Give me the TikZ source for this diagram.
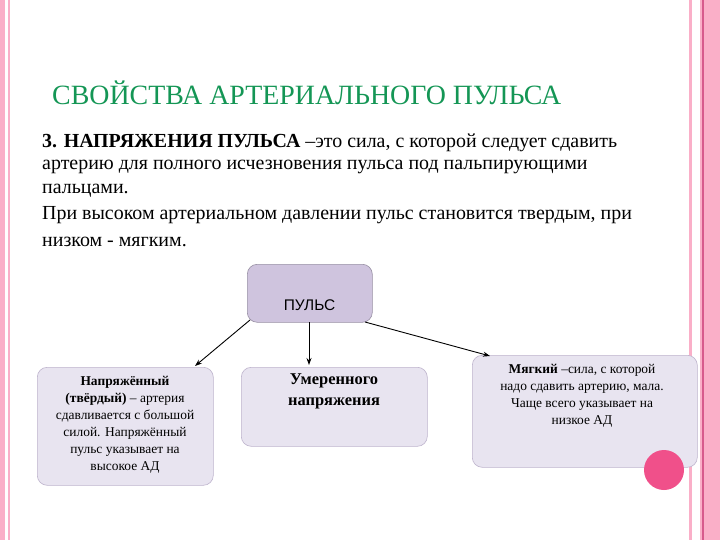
\documentclass[tikz,border=0pt]{standalone}
\usepackage{fontspec}
\setmainfont{Liberation Serif}
\newfontfamily\sanscyr{Liberation Sans}
\usetikzlibrary{arrows.meta}
\definecolor{pinkbar}{RGB}{250,175,200}
\definecolor{pinkdark}{RGB}{215,90,140}
\definecolor{titlegreen}{RGB}{20,150,85}
\definecolor{boxfill}{RGB}{232,228,240}
\definecolor{topfill}{RGB}{207,196,222}
\definecolor{boxline}{RGB}{190,180,205}
\definecolor{dotpink}{RGB}{240,80,138}
\tikzset{
 box/.style={draw=boxline, line width=0.6pt, fill=boxfill, rounded corners=10pt, anchor=north west, inner sep=0pt},
 arr/.style={-{Stealth[length=7pt,width=5pt]}, line width=0.9pt, black},
 bodytxt/.style={anchor=west, font=\fontsize{20}{22}\selectfont, inner sep=0pt},
 boxtxt/.style={align=center, font=\fontsize{13.5}{17}\selectfont, inner sep=0pt}
}
\begin{document}
\begin{tikzpicture}[x=1bp,y=-1bp]
\useasboundingbox (0,0) rectangle (720,540);
\fill[white] (0,0) rectangle (720,540);
% borders
\fill[pinkbar] (0,0) rectangle (5,540);
\fill[pinkbar] (8,0) rectangle (10,540);
\fill[pinkbar] (689,0) rectangle (692,540);
\fill[pinkbar] (700,0) rectangle (720,540);
\fill[pinkdark] (702,0) rectangle (703.5,540);
% title
\node[anchor=west, text=titlegreen, font=\fontsize{28}{30}\selectfont, inner sep=0pt] (title) at (52,93) {СВОЙСТВА АРТЕРИАЛЬНОГО ПУЛЬСА};
% body
\node[bodytxt] (l1) at (42,143) {\textbf{3. НАПРЯЖЕНИЯ ПУЛЬСА} –это сила, с которой следует сдавить};
\node[bodytxt] (l2) at (42,167) {артерию для полного исчезновения пульса под пальпирующими};
\node[bodytxt] (l3) at (42,191) {пальцами.};
\node[bodytxt] (l4) at (42,215) {При высоком артериальном давлении пульс становится твердым, при};
\node[bodytxt] (l5) at (42,242) {низком - мягким.};
% boxes
\node[box, fill=topfill, draw=boxline!80!black, minimum width=125bp, minimum height=58bp] (top) at (247,264) {};
\node[font=\sanscyr\fontsize{15.5}{17}\selectfont] (toptxt) at (309.5,305) {ПУЛЬС};
\node[box, minimum width=176bp, minimum height=118bp] (left) at (37,367) {};
\node[box, minimum width=186bp, minimum height=79bp] (mid) at (241,367) {};
\node[box, minimum width=225bp, minimum height=112bp] (right) at (472,355) {};
\fill[dotpink] (664,470) circle (20);
\node[boxtxt, anchor=north] (lt) at (125,376) {\textbf{Напряжённый}\\\textbf{(твёрдый)} – артерия\\сдавливается с большой\\силой. Напряжённый\\пульс указывает на\\высокое АД};
\node[boxtxt, anchor=north, font=\fontsize{16.5}{21}\selectfont] (mt) at (334,374) {\textbf{Умеренного}\\\textbf{напряжения}};
\node[boxtxt, anchor=north] (rt) at (582,364) {\textbf{Мягкий} –сила, с которой\\надо сдавить артерию, мала.\\Чаще всего указывает на\\низкое АД};
% arrows
\coordinate (a1) at (250,320);
\coordinate (a2) at (309,322);
\coordinate (a3) at (365,322);
\draw[arr] (a1) -- (195,366);
\draw[arr] (a2) -- (309,365);
\draw[arr] (a3) -- (490,356);
\end{tikzpicture}
\end{document}
